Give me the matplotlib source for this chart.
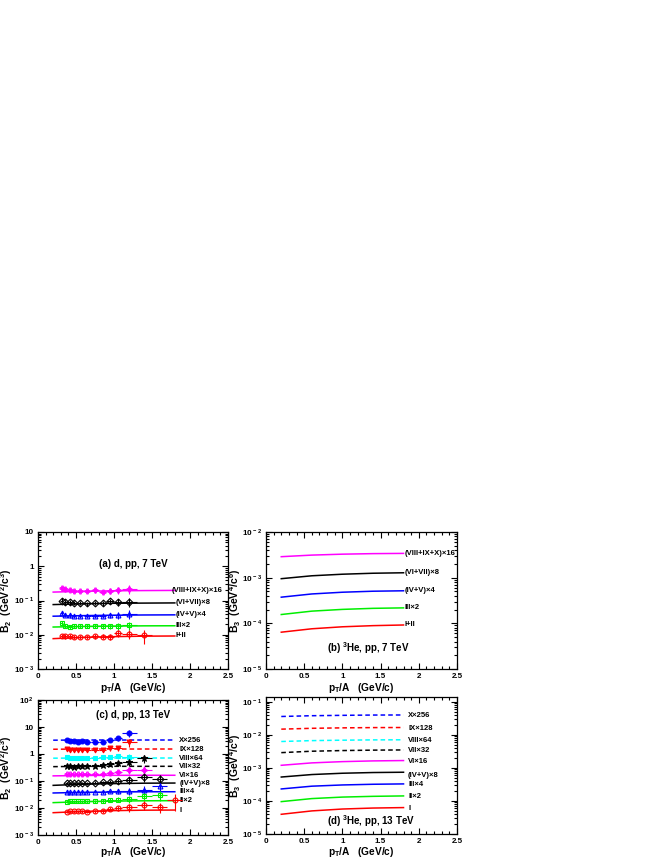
import matplotlib
matplotlib.use('Agg')
import matplotlib.pyplot as plt
from matplotlib.ticker import FixedLocator, FixedFormatter, MultipleLocator, NullFormatter

plt.rcParams['font.family'] = ['Liberation Sans', 'DejaVu Sans']
plt.rcParams['font.weight'] = 'bold'
plt.rcParams['mathtext.fontset'] = 'custom'
plt.rcParams['mathtext.rm'] = 'Liberation Sans:bold'
plt.rcParams['mathtext.it'] = 'Liberation Sans:bold'
plt.rcParams['mathtext.bf'] = 'Liberation Sans:bold'
plt.rcParams['mathtext.sf'] = 'Liberation Sans:bold'

# ---------------- data ----------------
curve_x = [0.2, 0.6, 1.0, 1.4, 1.8]

# panel (a) d, pp, 7 TeV
a_labels = ['(VIII+IX+X)×16', '(VI+VII)×8', '(IV+V)×4', 'III×2', 'I+II']
a_curves = [
    [0.176, 0.186, 0.192, 0.195, 0.197],
    [0.076, 0.080, 0.083, 0.084, 0.085],
    [0.0348, 0.0362, 0.0372, 0.0378, 0.0381],
    [0.0168, 0.0175, 0.0179, 0.0182, 0.0183],
    [0.0077, 0.0084, 0.0088, 0.0091, 0.0092],
]
a_x = [0.31, 0.36, 0.42, 0.48, 0.55, 0.65, 0.75, 0.85, 0.95, 1.05, 1.2, 1.4]
a_xerr = [0.025, 0.025, 0.025, 0.025, 0.03, 0.05, 0.05, 0.05, 0.05, 0.05, 0.1, 0.1]
a_pts = [
    [0.23, 0.21, 0.20, 0.19, 0.19, 0.19, 0.20, 0.18, 0.19, 0.20, 0.22],
    [0.100, 0.090, 0.088, 0.086, 0.085, 0.082, 0.085, 0.085, 0.095, 0.090, 0.090],
    [0.044, 0.038, 0.037, 0.036, 0.036, 0.035, 0.036, 0.036, 0.037, 0.038, 0.041],
    [0.022, 0.018, 0.017, 0.018, 0.018, 0.018, 0.018, 0.018, 0.018, 0.018, 0.019],
    [0.0092, 0.0090, 0.0090, 0.0088, 0.0088, 0.0088, 0.0090, 0.0088, 0.0088, 0.0110, 0.0105, 0.0098],
]
a_relerr = [0.15, 0.15, 0.14, 0.14, 0.14, 0.14, 0.15, 0.16, 0.18, 0.22, 0.28, 0.45]

# panel (b) 3He, pp, 7 TeV
b_labels = ['(VIII+IX+X)×16', '(VI+VII)×8', '(IV+V)×4', 'III×2', 'I+II']
b_curves = [
    [2.88e-3, 3.12e-3, 3.27e-3, 3.36e-3, 3.40e-3],
    [9.5e-4, 1.10e-3, 1.19e-3, 1.25e-3, 1.28e-3],
    [3.74e-4, 4.40e-4, 4.80e-4, 5.05e-4, 5.16e-4],
    [1.56e-4, 1.85e-4, 2.02e-4, 2.13e-4, 2.18e-4],
    [6.4e-5, 7.6e-5, 8.4e-5, 8.9e-5, 9.2e-5],
]

# panel (c) d, pp, 13 TeV
c_labels = ['X×256', 'IX×128', 'VIII×64', 'VII×32', 'VI×16', '(IV+V)×8', 'III×4', 'II×2', 'I']
c_curves = [
    [3.25, 3.30, 3.30, 3.30, 3.30],
    [1.50, 1.53, 1.53, 1.53, 1.53],
    [0.70, 0.71, 0.71, 0.71, 0.71],
    [0.34, 0.35, 0.35, 0.35, 0.35],
    [0.155, 0.160, 0.162, 0.163, 0.163],
    [0.069, 0.076, 0.080, 0.083, 0.084],
    [0.036, 0.038, 0.039, 0.040, 0.040],
    [0.0158, 0.0172, 0.0180, 0.0185, 0.0187],
    [0.0067, 0.0075, 0.0080, 0.0083, 0.0084],
]
c_x = [0.375, 0.425, 0.475, 0.525, 0.575, 0.65, 0.75, 0.85, 0.95, 1.05, 1.2, 1.4, 1.6, 1.8]
c_xerr = [0.025, 0.025, 0.025, 0.025, 0.025, 0.05, 0.05, 0.05, 0.05, 0.05, 0.1, 0.1, 0.1, 0.1]
c_pts = [
    [3.2, 3.1, 3.0, 2.9, 3.0, 2.9, 2.9, 2.9, 3.4, 3.9, 6.2],
    [1.50, 1.45, 1.40, 1.45, 1.40, 1.40, 1.45, 1.40, 1.60, 1.60, 2.7],
    [0.75, 0.72, 0.70, 0.72, 0.70, 0.70, 0.72, 0.75, 0.80, 0.82, 0.80],
    [0.36, 0.35, 0.34, 0.35, 0.35, 0.35, 0.36, 0.38, 0.42, 0.45, 0.52, 0.69],
    [0.180, 0.180, 0.175, 0.180, 0.180, 0.178, 0.180, 0.185, 0.200, 0.210, 0.260, 0.260],
    [0.085, 0.085, 0.084, 0.085, 0.085, 0.084, 0.086, 0.088, 0.092, 0.100, 0.110, 0.137, 0.117],
    [0.040, 0.039, 0.039, 0.040, 0.039, 0.039, 0.040, 0.040, 0.041, 0.043, 0.042, 0.048, 0.065],
    [0.0170, 0.0175, 0.0178, 0.0180, 0.0178, 0.0180, 0.0180, 0.0185, 0.0195, 0.0205, 0.0220, 0.0280, 0.0300],
    [0.0074, 0.0075, 0.0075, 0.0076, 0.0076, 0.0074, 0.0076, 0.0078, 0.0090, 0.0097, 0.0105, 0.0129, 0.0113, 0.0200],
]
c_relerr = [0.12, 0.12, 0.12, 0.12, 0.12, 0.12, 0.13, 0.14, 0.16, 0.2, 0.3, 0.35, 0.4, 0.6]

# panel (d) 3He, pp, 13 TeV
d_labels = ['X×256', 'IX×128', 'VIII×64', 'VII×32', 'VI×16', '(IV+V)×8', 'III×4', 'II×2', 'I']
d_curves = [
    [0.036, 0.038, 0.039, 0.0398, 0.040],
    [0.0149, 0.0158, 0.0163, 0.0166, 0.0167],
    [6.3e-3, 6.7e-3, 6.9e-3, 7.05e-3, 7.1e-3],
    [2.9e-3, 3.2e-3, 3.35e-3, 3.45e-3, 3.5e-3],
    [1.2e-3, 1.42e-3, 1.55e-3, 1.63e-3, 1.67e-3],
    [5.3e-4, 6.3e-4, 6.9e-4, 7.25e-4, 7.4e-4],
    [2.31e-4, 2.8e-4, 3.05e-4, 3.2e-4, 3.28e-4],
    [9.55e-5, 1.18e-4, 1.31e-4, 1.38e-4, 1.42e-4],
    [3.95e-5, 5.0e-5, 5.7e-5, 6.1e-5, 6.3e-5],
]

# ---------------- styles ----------------
MAG, BLK, BLU, GRN, RED, CYN = '#ff00ff', '#000000', '#0000ff', '#00ee00', '#ff0000', '#00ffff'
a_colors = [MAG, BLK, BLU, GRN, RED]
a_markers = ['P', 'D', '^', 's', 'o']
c_colors = [BLU, RED, CYN, BLK, MAG, BLK, BLU, GRN, RED]
c_ls = ['--', '--', '--', '--', '-', '-', '-', '-', '-']
c_markers = ['o', 'v', 's', '*', 'P', 'D', '^', 's', 'o']
c_filled = [True, True, True, True, False, False, False, False, False]

W, H = 664, 860
fig = plt.figure(figsize=(W / 100, H / 100), dpi=100)

def box(x0, y0, x1, y1):
    return [x0 / W, 1 - y1 / H, (x1 - x0) / W, (y1 - y0) / H]

ax_a = fig.add_axes(box(38, 532, 228, 669))
ax_b = fig.add_axes(box(266, 532, 457, 669))
ax_c = fig.add_axes(box(38, 700, 228, 835))
ax_d = fig.add_axes(box(266, 697, 457, 834))

def ylab(e):
    if e == 0:
        return '1'
    if e == 1:
        return '10'
    return r'$10^{\,%d}$' % e

def style(ax, ymin, ymax, exps, ytitle, xtitle_y, ytitle_x):
    ax.set_xlim(0, 2.5)
    ax.set_yscale('log')
    ax.set_ylim(ymin, ymax)
    ax.xaxis.set_major_locator(FixedLocator([0, 0.5, 1.0, 1.5, 2.0, 2.5]))
    ax.xaxis.set_major_formatter(FixedFormatter(['0', '0.5', '1', '1.5', '2', '2.5']))
    ax.xaxis.set_minor_locator(MultipleLocator(0.1))
    ax.yaxis.set_major_locator(FixedLocator([10.0 ** e for e in exps]))
    ax.yaxis.set_major_formatter(FixedFormatter([ylab(e) for e in exps]))
    minors = []
    for e in range(min(exps) - 1, max(exps) + 1):
        for s in range(2, 10):
            minors.append(s * 10.0 ** e)
    ax.yaxis.set_minor_locator(FixedLocator(minors))
    ax.yaxis.set_minor_formatter(NullFormatter())
    ax.tick_params(which='both', direction='in', top=True, right=True, labelsize=5.8, width=0.8)
    ax.tick_params(which='major', length=4, pad=3)
    ax.tick_params(which='minor', length=2)
    for sp in ax.spines.values():
        sp.set_linewidth(0.9)
    ax.set_xlabel(r'p$_{\rm T}$/A   (GeV/c)', fontsize=7.3, fontweight='bold', va='top')
    ax.xaxis.set_label_coords(0.5, xtitle_y)
    ax.set_ylabel(ytitle, fontsize=7.5, fontweight='bold')
    ax.yaxis.set_label_coords(ytitle_x, 0.5)

style(ax_a, 1e-3, 10, [-3, -2, -1, 0, 1], r'B$_{2}$  (GeV$^{2}$/c$^{3}$)', -0.09, -0.125)
style(ax_b, 1e-5, 1e-2, [-5, -4, -3, -2], r'B$_{3}$  (GeV$^{4}$/c$^{6}$)', -0.09, -0.12)
style(ax_c, 1e-3, 100, [-3, -2, -1, 0, 1, 2], r'B$_{2}$  (GeV$^{2}$/c$^{3}$)', -0.075, -0.125)
style(ax_d, 1e-5, 0.14, [-5, -4, -3, -2, -1], r'B$_{3}$  (GeV$^{4}$/c$^{6}$)', -0.082, -0.12)

def draw_points(ax, xs, xerrs, ys, relerr, color, marker, filled):
    n = len(ys)
    yerr = [ys[i] * relerr[i] for i in range(n)]
    ms = 4.8 if marker == '*' else 3.5
    ax.errorbar(xs[:n], ys, xerr=xerrs[:n], yerr=yerr, fmt=marker, color=color,
                ms=ms, mfc=color if filled else 'none', mec=color, mew=0.8,
                elinewidth=0.8, capsize=0, zorder=3)

LBL = 5.5

# panel a
for i in range(5):
    ax_a.plot(curve_x, a_curves[i], color=a_colors[i], lw=1.1, zorder=2)
    lx = 1.76 if i == 0 else 1.81
    ax_a.text(lx, a_curves[i][-1], a_labels[i], fontsize=LBL, va='center', ha='left')
    draw_points(ax_a, a_x, a_xerr, a_pts[i], a_relerr, a_colors[i], a_markers[i], False)
ax_a.text(0.5, 0.77, '(a) d, pp, 7 TeV', transform=ax_a.transAxes, fontsize=7, ha='center', va='center')

# panel b
for i in range(5):
    ax_b.plot(curve_x, b_curves[i], color=a_colors[i], lw=1.1)
    ax_b.text(1.81, b_curves[i][-1], b_labels[i], fontsize=LBL, va='center', ha='left')
ax_b.text(0.32, 0.15, r'(b) $^{3}$He, pp, 7 TeV', transform=ax_b.transAxes, fontsize=7, ha='left', va='center')

# panel c
for i in range(9):
    if c_ls[i] == '--':
        ax_c.plot(curve_x, c_curves[i], color=c_colors[i], lw=1.1, dashes=(3, 2), zorder=2)
    else:
        ax_c.plot(curve_x, c_curves[i], color=c_colors[i], lw=1.1, zorder=2)
    ax_c.text(1.86, c_curves[i][-1], c_labels[i], fontsize=LBL, va='center', ha='left')
    draw_points(ax_c, c_x, c_xerr, c_pts[i], c_relerr, c_colors[i], c_markers[i], c_filled[i])
ax_c.text(0.5, 0.89, '(c) d, pp, 13 TeV', transform=ax_c.transAxes, fontsize=7, ha='center', va='center')

# panel d
for i in range(9):
    if c_ls[i] == '--':
        ax_d.plot(curve_x, d_curves[i], color=c_colors[i], lw=1.1, dashes=(3, 2))
    else:
        ax_d.plot(curve_x, d_curves[i], color=c_colors[i], lw=1.1)
    yl = d_curves[i][-1] * (0.8 if i == 5 else 0.95)
    ax_d.text(1.86, yl, d_labels[i], fontsize=LBL, va='center', ha='left')
ax_d.text(0.32, 0.095, r'(d) $^{3}$He, pp, 13 TeV', transform=ax_d.transAxes, fontsize=7, ha='left', va='center')

fig.savefig('out.png', dpi=100)
